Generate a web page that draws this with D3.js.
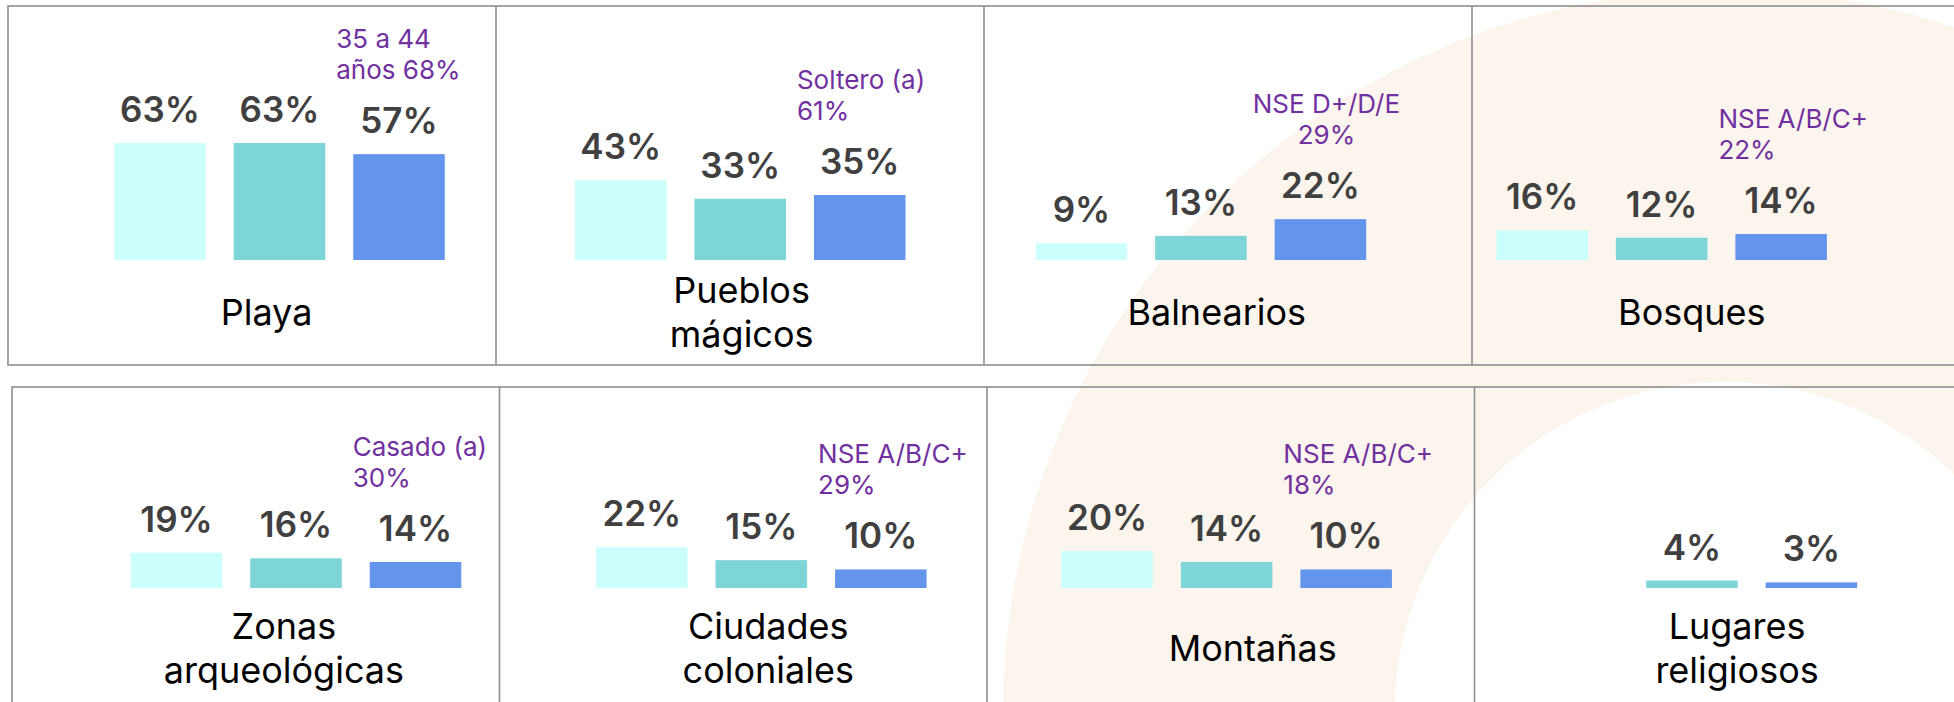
<!DOCTYPE html>
<html>
<head>
<meta charset="utf-8">
<script src="https://cdn.jsdelivr.net/npm/d3@7"></script>
<style>
  html, body { margin: 0; padding: 0; background: #ffffff; }
  svg { display: block; }
</style>
</head>
<body>
<svg id="chart" width="1954" height="702"></svg>
<script>
// ---------------- DATA ----------------
const categoriesTop = ["Playa", "Pueblos mágicos", "Balnearios", "Bosques"];
const categoriesBottom = ["Zonas arqueológicas", "Ciudades coloniales", "Montañas", "Lugares religiosos"];
const categoryLines = {
  "Playa": ["Playa"],
  "Pueblos mágicos": ["Pueblos", "mágicos"],
  "Balnearios": ["Balnearios"],
  "Bosques": ["Bosques"],
  "Zonas arqueológicas": ["Zonas", "arqueológicas"],
  "Ciudades coloniales": ["Ciudades", "coloniales"],
  "Montañas": ["Montañas"],
  "Lugares religiosos": ["Lugares", "religiosos"]
};
const seriesNames = ["Serie 1", "Serie 2", "Serie 3"];
// values in %, order: Playa, Pueblos mágicos, Balnearios, Bosques, Zonas arq., Ciudades col., Montañas, Lugares rel.
const serie1 = [63, 43, 9, 16, 19, 22, 20, null];
const serie2 = [63, 33, 13, 12, 16, 15, 14, 4];
const serie3 = [57, 35, 22, 14, 14, 10, 10, 3];
// highlighted segment notes (shown above the third bar)
const highlightLines = [
  ["35 a 44", "años 68%"],
  ["Soltero (a)", "61%"],
  ["NSE D+/D/E", "29%"],
  ["NSE A/B/C+", "22%"],
  ["Casado (a)", "30%"],
  ["NSE A/B/C+", "29%"],
  ["NSE A/B/C+", "18%"],
  null
];

// ---------------- LAYOUT / STYLE ----------------
const W = 1954, H = 702;
const colors = ["#CCFFFC", "#7DD5D7", "#6495ED"];
const valueColor = "#404040";
const noteColor = "#7030A0";
const borderColor = "#8E8E8E";
const font = "Inter, 'Noto Sans', sans-serif";

const svg = d3.select("#chart");

// decorative background ring
const ring = d3.arc().innerRadius(330).outerRadius(722).startAngle(0).endAngle(2 * Math.PI);
svg.append("path")
  .attr("d", ring())
  .attr("transform", "translate(1725,712)")
  .attr("fill", "#FCF5ED");

const y = d3.scaleLinear().domain([0, 100]).range([0, 185.7]);

const rows = [
  { cats: categoriesTop, offset: 0, base: 260, barRange: [49.15, 1892], labelRange: [29, 1929.4],
    labelOff: 65, box: { x: 8, y: 6, w: 1975, h: 359, pw: 488 } },
  { cats: categoriesBottom, offset: 4, base: 588, barRange: [63.35, 1924.6], labelRange: [41.7, 1979.3],
    labelOff: 73, box: { x: 12, y: 387, w: 1975, h: 340, pw: 487.5 } }
];

const inner = d3.scaleBand().domain(seriesNames).range([0, 3 * 119.5]).paddingInner(0.234).paddingOuter(0.117);
const allSeries = [serie1, serie2, serie3];

rows.forEach(row => {
  const g = svg.append("g");
  // panel boxes
  const b = row.box;
  g.append("rect")
    .attr("x", b.x).attr("y", b.y).attr("width", b.w).attr("height", b.h)
    .attr("fill", "none").attr("stroke", borderColor).attr("stroke-width", 1.6);
  [1, 2, 3].forEach(i => {
    g.append("line")
      .attr("x1", b.x + b.pw * i).attr("x2", b.x + b.pw * i)
      .attr("y1", b.y).attr("y2", b.y + b.h)
      .attr("stroke", borderColor).attr("stroke-width", 1.6);
  });

  const x = d3.scaleBand().domain(row.cats).range(row.barRange).padding(0);
  const xl = d3.scaleBand().domain(row.cats).range(row.labelRange).padding(0);

  row.cats.forEach((cat, ci) => {
    const idx = row.offset + ci;
    const cx = x(cat) + x.bandwidth() / 2;
    const left = cx - 1.5 * 119.5;
    const cg = g.append("g");

    seriesNames.forEach((s, si) => {
      const v = allSeries[si][idx];
      if (v == null) return;
      const bx = left + inner(s);
      const h = y(v);
      cg.append("rect")
        .attr("x", bx).attr("y", row.base - h)
        .attr("width", inner.bandwidth()).attr("height", h)
        .attr("fill", colors[si]);
      cg.append("text")
        .attr("x", bx + inner.bandwidth() / 2)
        .attr("y", row.base - h - 21)
        .attr("text-anchor", "middle")
        .attr("font-family", font)
        .attr("font-weight", 600)
        .attr("font-size", 35)
        .attr("fill", valueColor)
        .text(v + "%");
    });

    // highlight note above third bar
    const note = highlightLines[idx];
    if (note) {
      const v3 = serie3[idx];
      const bx3 = left + inner(seriesNames[2]);
      const baseY = row.base - y(v3) - 21 - 54;
      const centered = idx === 2;
      const t = cg.append("text")
        .attr("font-family", font)
        .attr("font-size", 26)
        .attr("fill", noteColor)
        .attr("text-anchor", centered ? "middle" : "start");
      note.forEach((ln, li) => {
        t.append("tspan")
          .attr("x", centered ? bx3 + inner.bandwidth() / 2 + 6 : bx3 - 17)
          .attr("y", baseY - (note.length - 1 - li) * 31)
          .text(ln);
      });
    }

    // category label
    const lines = categoryLines[cat];
    const lx = xl(cat) + xl.bandwidth() / 2;
    const t = cg.append("text")
      .attr("text-anchor", "middle")
      .attr("font-family", font)
      .attr("font-size", 36)
      .attr("fill", "#000000");
    lines.forEach((ln, li) => {
      t.append("tspan")
        .attr("x", lx)
        .attr("y", row.base + row.labelOff - (lines.length - 1) * 22 + li * 44)
        .text(ln);
    });
  });
});
</script>
</body>
</html>
